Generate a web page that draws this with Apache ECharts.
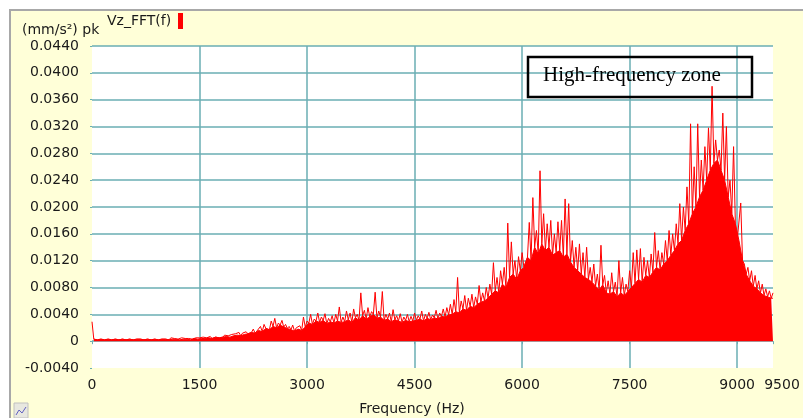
<!DOCTYPE html>
<html><head><meta charset="utf-8">
<script src="https://cdn.jsdelivr.net/npm/echarts@6/dist/echarts.min.js"></script>
<style>
html,body{margin:0;padding:0;background:#fff;}
#frame{position:absolute;left:9px;top:9px;width:794px;height:409px;background:#FFFFD8;border-left:2px solid #a8a8a8;border-top:2px solid #a8a8a8;box-sizing:border-box;}
#chart{position:absolute;left:0;top:0;width:803px;height:418px;}
</style></head><body>
<div id="frame"></div><div id="chart"></div>
<script>
// Frequency axis (Hz) and amplitude axis ((mm/s²) pk)
const xMin = 0, xMax = 9500, xStep = 1500;
const xTickLabels = [0, 1500, 3000, 4500, 6000, 7500, 9000, 9500];
const yMin = -0.004, yMax = 0.044, yStep = 0.004;

// Tallest spikes, every 50 Hz from 0 to 9500 Hz
const peakStep = 50;
const peakVals = [
  0.0029,0.0004,0.0003,0.0004,0.0003,0.0004,0.0003,0.0004,0.0003,0.0004,
  0.0003,0.0004,0.0003,0.0005,0.0003,0.0004,0.0003,0.0004,0.0003,0.0004,
  0.0004,0.0003,0.0005,0.0004,0.0003,0.0005,0.0004,0.0004,0.0003,0.0005,
  0.0005,0.0006,0.0005,0.0007,0.0006,0.0008,0.0007,0.0009,0.0008,0.0010,
  0.0011,0.0013,0.0012,0.0014,0.0012,0.0018,0.0015,0.0022,0.0025,0.0020,
  0.0030,0.0034,0.0027,0.0031,0.0025,0.0022,0.0024,0.0020,0.0023,0.0036,
  0.0030,0.0040,0.0033,0.0042,0.0036,0.0041,0.0034,0.0038,0.0040,0.0051,
  0.0036,0.0045,0.0042,0.0048,0.0040,0.0072,0.0046,0.0050,0.0044,0.0073,
  0.0045,0.0074,0.0040,0.0042,0.0047,0.0038,0.0041,0.0036,0.0040,0.0037,
  0.0042,0.0038,0.0045,0.0040,0.0043,0.0039,0.0046,0.0042,0.0048,0.0050,
  0.0055,0.0062,0.0095,0.0060,0.0068,0.0064,0.0070,0.0066,0.0083,0.0072,
  0.0080,0.0085,0.0117,0.0095,0.0105,0.0110,0.0176,0.0148,0.0120,0.0126,
  0.0132,0.0118,0.0177,0.0214,0.0165,0.0254,0.0190,0.0175,0.0180,0.0160,
  0.0178,0.0180,0.0212,0.0205,0.0150,0.0140,0.0145,0.0132,0.0140,0.0110,
  0.0115,0.0100,0.0143,0.0098,0.0090,0.0102,0.0088,0.0120,0.0095,0.0085,
  0.0105,0.0132,0.0136,0.0138,0.0125,0.0120,0.0130,0.0162,0.0135,0.0132,
  0.0150,0.0165,0.0160,0.0175,0.0205,0.0200,0.0230,0.0324,0.0260,0.0324,
  0.0270,0.0290,0.0318,0.0380,0.0300,0.0285,0.0340,0.0320,0.0240,0.0290,
  0.0150,0.0206,0.0115,0.0110,0.0105,0.0098,0.0090,0.0085,0.0078,0.0075,
  0.0072
];

// Top of the dense solid band, every 50 Hz from 25 to 9475 Hz
const bandVals = [
  0.0003,0.0002,0.0003,0.0002,0.0003,0.0002,0.0003,0.0002,0.0003,0.0002,
  0.0003,0.0002,0.0003,0.0003,0.0002,0.0003,0.0002,0.0003,0.0002,0.0003,
  0.0003,0.0002,0.0003,0.0003,0.0002,0.0003,0.0003,0.0002,0.0004,0.0003,
  0.0004,0.0004,0.0005,0.0004,0.0006,0.0005,0.0006,0.0007,0.0006,0.0008,
  0.0009,0.0008,0.0010,0.0011,0.0013,0.0012,0.0016,0.0014,0.0019,0.0017,
  0.0022,0.0020,0.0024,0.0021,0.0019,0.0017,0.0015,0.0018,0.0016,0.0021,
  0.0027,0.0025,0.0030,0.0028,0.0031,0.0026,0.0029,0.0027,0.0030,0.0028,
  0.0029,0.0032,0.0028,0.0035,0.0031,0.0038,0.0033,0.0036,0.0040,0.0034,
  0.0036,0.0031,0.0033,0.0029,0.0032,0.0030,0.0028,0.0031,0.0029,0.0030,
  0.0031,0.0033,0.0030,0.0034,0.0032,0.0035,0.0033,0.0037,0.0036,0.0039,
  0.0040,0.0044,0.0042,0.0048,0.0046,0.0052,0.0050,0.0055,0.0058,0.0060,
  0.0064,0.0070,0.0075,0.0072,0.0085,0.0080,0.0095,0.0100,0.0092,0.0105,
  0.0110,0.0125,0.0120,0.0140,0.0130,0.0145,0.0135,0.0140,0.0128,0.0132,
  0.0135,0.0125,0.0130,0.0118,0.0110,0.0105,0.0100,0.0095,0.0092,0.0088,
  0.0082,0.0076,0.0084,0.0072,0.0070,0.0074,0.0066,0.0072,0.0068,0.0074,
  0.0080,0.0086,0.0092,0.0088,0.0098,0.0095,0.0103,0.0110,0.0106,0.0115,
  0.0120,0.0128,0.0135,0.0145,0.0150,0.0165,0.0175,0.0190,0.0200,0.0215,
  0.0225,0.0240,0.0255,0.0265,0.0270,0.0255,0.0240,0.0215,0.0190,0.0175,
  0.0150,0.0120,0.0100,0.0090,0.0082,0.0078,0.0072,0.0068,0.0066,0.0064
];

const bandData = bandVals.map((v, i) => [i * peakStep + peakStep / 2, v]);
bandData.push([xMax, bandVals[bandVals.length - 1]]);
const spikeData = [];
peakVals.forEach((v, i) => {
  spikeData.push([i * peakStep, v]);
  if (i < bandVals.length) spikeData.push([i * peakStep + peakStep / 2, bandVals[i]]);
});

const FONT = 'DejaVu Sans';
const gridColor = '#6AAEB3';
const chart = echarts.init(document.getElementById('chart'));
chart.setOption({
  backgroundColor: 'transparent',
  animation: false,
  grid: { left: 92, right: 30, top: 46, bottom: 50, show: true, backgroundColor: '#ffffff', borderWidth: 0 },
  xAxis: {
    type: 'value', min: xMin, max: xMax, interval: xStep,
    axisLine: { show: false },
    axisTick: { show: true, length: 3, lineStyle: { color: gridColor } },
    axisLabel: { margin: 10, fontFamily: FONT, fontSize: 14, color: '#1a1a1a',
      customValues: xTickLabels, showMaxLabel: true,
      formatter: v => v === xMax ? '{r|' + v + '}' : String(v),
      rich: { r: { fontFamily: FONT, fontSize: 14, color: '#1a1a1a', padding: [0, 0, 0, 18] } } },
    splitLine: { show: true, showMinLine: false, showMaxLine: false, lineStyle: { color: gridColor, width: 1.5 } }
  },
  yAxis: {
    type: 'value', min: yMin, max: yMax, interval: yStep,
    axisLine: { show: false },
    axisTick: { show: true, length: 2, lineStyle: { color: gridColor } },
    axisLabel: { margin: 13, fontFamily: FONT, fontSize: 14, color: '#1a1a1a',
      formatter: v => Math.abs(v) < 1e-9 ? '0' : v.toFixed(4) },
    splitLine: { show: true, showMinLine: false, lineStyle: { color: gridColor, width: 1.5 } }
  },
  series: [
    { type: 'line', data: bandData, showSymbol: false, symbol: 'none',
      lineStyle: { color: '#ff0000', width: 1 }, areaStyle: { color: '#ff0000', opacity: 1 }, z: 3 },
    { type: 'line', data: spikeData, showSymbol: false, symbol: 'none',
      lineStyle: { color: '#ff0000', width: 1 }, z: 4 }
  ],
  graphic: [
    { type: 'text', style: { text: '(mm/s²) pk', x: 22, y: 30, font: '14px "DejaVu Sans"', fill: '#1a1a1a', verticalAlign: 'middle' } },
    { type: 'text', style: { text: 'Vz_FFT(f)', x: 107, y: 21, font: '14px "DejaVu Sans"', fill: '#1a1a1a', verticalAlign: 'middle' } },
    { type: 'rect', shape: { x: 178, y: 13, width: 5, height: 16 }, style: { fill: '#ff0000' } },
    { type: 'text', style: { text: 'Frequency (Hz)', x: 412, y: 409, font: '14px "DejaVu Sans"', fill: '#1a1a1a', align: 'center', verticalAlign: 'middle' } },
    { type: 'rect', shape: { x: 528, y: 57, width: 224, height: 40 }, style: { fill: 'none', stroke: '#000', lineWidth: 2.5 }, z: 10 },
    { type: 'text', style: { text: 'High-frequency zone', x: 543, y: 75, font: '21px "Liberation Serif"', fill: '#000', verticalAlign: 'middle' }, z: 10 },
    { type: 'rect', shape: { x: 14, y: 403, width: 14, height: 15 }, style: { fill: '#e8e8e0', stroke: '#c0c0c0', lineWidth: 1 } },
    { type: 'polyline', shape: { points: [[16, 415], [19, 410], [22, 413], [26, 407]] }, style: { stroke: '#6060c0', lineWidth: 1, fill: 'none' } }
  ]
});
</script>
</body></html>
